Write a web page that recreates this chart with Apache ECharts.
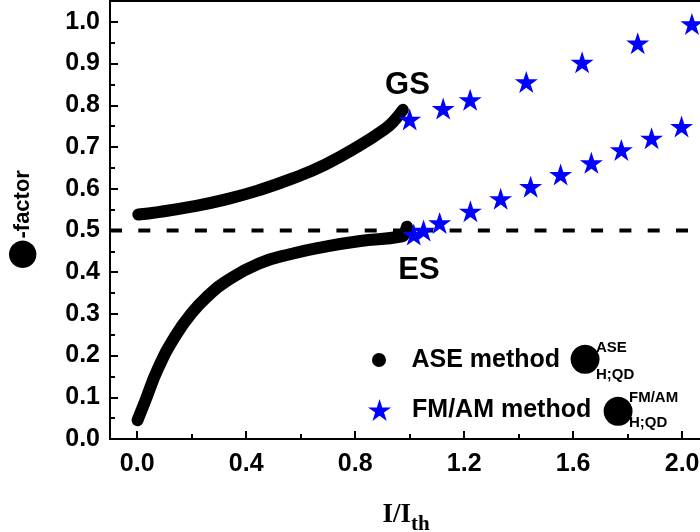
<!DOCTYPE html>
<html><head><meta charset="utf-8">
<script src="https://cdn.jsdelivr.net/npm/echarts@6/dist/echarts.min.js"></script>
<style>html,body{margin:0;padding:0;background:#fff}#c{width:700px;height:532px}</style>
</head><body><div id="c"></div>
<script>
// ---- data ----
const xMajorTicks = [0, 0.4, 0.8, 1.2, 1.6, 2.0];
const xMinorTicks = [0.2, 0.6, 1.0, 1.4, 1.8];
const yMajorTicks = [0, 0.1, 0.2, 0.3, 0.4, 0.5, 0.6, 0.7, 0.8, 0.9, 1.0];
const yMinorTicks = [0.05, 0.15, 0.25, 0.35, 0.45, 0.55, 0.65, 0.75, 0.85, 0.95];

const aseGsX = [0.004, 0.077, 0.2, 0.322, 0.445, 0.568, 0.69, 0.8125, 0.911, 0.94, 0.975];
const aseGsY = [0.538, 0.544, 0.557, 0.574, 0.596, 0.624, 0.658, 0.702, 0.744, 0.761, 0.789];

const aseEsX = [0.001, 0.028, 0.077, 0.139, 0.2, 0.261, 0.322, 0.445, 0.568, 0.69, 0.8125, 0.972, 0.982, 0.99];
const aseEsY = [0.045, 0.089, 0.170, 0.246, 0.302, 0.344, 0.376, 0.420, 0.444, 0.461, 0.474, 0.486, 0.495, 0.509];

const fmGsX = [1.0, 1.123, 1.222, 1.428, 1.633, 1.837, 2.036];
const fmGsY = [0.766, 0.792, 0.813, 0.856, 0.903, 0.949, 0.995];

const fmEsX = [1.015, 1.051, 1.110, 1.223, 1.334, 1.444, 1.554, 1.667, 1.777, 1.888, 1.998];
const fmEsY = [0.490, 0.500, 0.518, 0.546, 0.576, 0.605, 0.634, 0.662, 0.693, 0.721, 0.749];

const refLevel = 0.5;
const seriesNames = ['ASE method', 'FM/AM method'];
const stateLabels = ['GS', 'ES'];
const stateLabelPos = [[0.992, 0.851], [1.034, 0.409]];
// ---------------------------------------

const zip = (xs, ys) => xs.map((x, i) => [x, ys[i]]);
const XMIN = -0.1, XMAX = 2.073, YMIN = 0, YMAX = 1.05;
const FONT = 'Liberation Sans';
const STAR = 'path://M0,-10 L2.245,-3.09 L9.511,-3.09 L3.633,1.18 L5.878,8.09 L0,3.82 L-5.878,8.09 L-3.633,1.18 L-9.511,-3.09 L-2.245,-3.09 Z';

const chart = echarts.init(document.getElementById('c'), null, {renderer: 'canvas'});
const gridPos = {left: 110, right: -2, top: 1, bottom: 93, containLabel: false, outerBoundsMode: 'none'};
const lbl = {fontFamily: FONT, fontWeight: 'bold', fontSize: 25, color: '#000'};

chart.setOption({
  animation: false,
  backgroundColor: '#fff',
  grid: [
    Object.assign({show: true, borderColor: '#000', borderWidth: 2, backgroundColor: 'transparent'}, gridPos),
    Object.assign({}, gridPos)
  ],
  xAxis: [
    {
      type: 'value', gridIndex: 0, min: XMIN, max: XMAX,
      axisLine: {show: true, onZero: false, lineStyle: {color: '#000', width: 2}},
      axisTick: {show: true, inside: true, length: 8, lineStyle: {color: '#000', width: 2}, customValues: xMajorTicks},
      axisLabel: Object.assign({customValues: xMajorTicks, margin: 13, formatter: v => v.toFixed(1)}, lbl),
      splitLine: {show: false},
      name: '{a|I/I}{s|th}', nameLocation: 'middle', nameGap: 63,
      nameTextStyle: {
        rich: {
          a: {fontFamily: 'Liberation Serif', fontWeight: 'bold', fontSize: 27, color: '#000', verticalAlign: 'top', lineHeight: 27},
          s: {fontFamily: 'Liberation Serif', fontWeight: 'bold', fontSize: 21, color: '#000', verticalAlign: 'top', lineHeight: 21, padding: [12, 0, 0, 0]}
        }
      }
    },
    {
      type: 'value', gridIndex: 1, min: XMIN, max: XMAX, position: 'bottom',
      axisLine: {show: false, onZero: false},
      axisTick: {show: true, inside: true, length: 5, lineStyle: {color: '#000', width: 2}, customValues: xMinorTicks},
      axisLabel: {show: false}, splitLine: {show: false}
    }
  ],
  yAxis: [
    {
      type: 'value', gridIndex: 0, min: YMIN, max: YMAX,
      axisLine: {show: true, onZero: false, lineStyle: {color: '#000', width: 2}},
      axisTick: {show: true, inside: true, length: 8, lineStyle: {color: '#000', width: 2}, customValues: yMajorTicks},
      axisLabel: Object.assign({customValues: yMajorTicks, margin: 10, formatter: v => v.toFixed(1)}, lbl),
      splitLine: {show: false},
      name: '{b|●}-factor', nameLocation: 'middle', nameRotate: 90, nameGap: 69,
      nameTextStyle: {
        fontFamily: FONT, fontWeight: 'bold', fontSize: 22, color: '#000',
        rich: {b: {fontFamily: 'DejaVu Sans', fontWeight: 'bold', fontSize: 36, color: '#000'}}
      }
    },
    {
      type: 'value', gridIndex: 1, min: YMIN, max: YMAX, position: 'left',
      axisLine: {show: false, onZero: false},
      axisTick: {show: true, inside: true, length: 5, lineStyle: {color: '#000', width: 2}, customValues: yMinorTicks},
      axisLabel: {show: false}, splitLine: {show: false}
    }
  ],
  legend: [
    {
      data: [{name: seriesNames[0], icon: 'circle'}],
      left: 372, top: 347.5, padding: 0, itemWidth: 55, itemHeight: 14,
      selectedMode: false, textStyle: lbl
    },
    {
      data: [{name: seriesNames[1], icon: STAR}],
      left: 368, top: 397.5, padding: 0, itemWidth: 55, itemHeight: 22,
      selectedMode: false, textStyle: lbl
    }
  ],
  series: [
    {
      name: 'ref', type: 'line', silent: true, symbol: 'none', z: 1,
      data: [[XMIN, refLevel], [XMAX, refLevel]],
      lineStyle: {color: '#000', width: 4, type: [12, 16.3]}
    },
    {
      name: seriesNames[0], type: 'line', smooth: true, showSymbol: false, z: 2, color: '#000',
      data: zip(aseGsX, aseGsY),
      lineStyle: {color: '#000', width: 12, cap: 'round', join: 'round'}
    },
    {
      name: seriesNames[0], type: 'line', smooth: true, showSymbol: false, z: 2, color: '#000',
      data: zip(aseEsX, aseEsY),
      lineStyle: {color: '#000', width: 12, cap: 'round', join: 'round'}
    },
    {
      name: seriesNames[1], type: 'scatter', z: 3, symbol: STAR, symbolSize: [23, 22],
      itemStyle: {color: '#0000ff', opacity: 1},
      data: zip(fmGsX, fmGsY).concat(zip(fmEsX, fmEsY))
    }
  ]
});

const gsPix = chart.convertToPixel({gridIndex: 0}, stateLabelPos[0]);
const esPix = chart.convertToPixel({gridIndex: 0}, stateLabelPos[1]);
const tstyle = (text, x, y, size, align) => ({
  type: 'text', z: 10,
  style: {text: text, x: x, y: y, fontFamily: FONT, fontWeight: 'bold', fontSize: size, fill: '#000', align: align || 'left', verticalAlign: 'middle'}
});
const blob = (x, y) => ({
  type: 'text', z: 10,
  style: {text: '●', x: x, y: y, fontFamily: 'DejaVu Sans', fontSize: 38, fill: '#000', align: 'center', verticalAlign: 'middle'}
});
chart.setOption({
  graphic: [
    tstyle(stateLabels[0], gsPix[0], gsPix[1] + 1, 31, 'center'),
    tstyle(stateLabels[1], esPix[0], esPix[1] + 2, 31, 'center'),
    blob(585, 359),
    tstyle('ASE', 596, 347.5, 15),
    tstyle('H;QD', 596, 374.5, 15),
    blob(618, 411.5),
    tstyle('FM/AM', 629, 398, 15),
    tstyle('H;QD', 629, 422.5, 15)
  ]
});
</script>
</body></html>
